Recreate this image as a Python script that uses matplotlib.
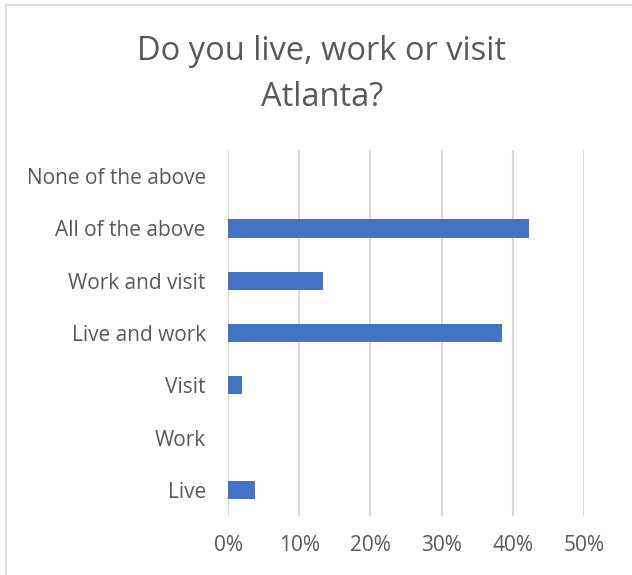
import matplotlib.pyplot as plt
from matplotlib.lines import Line2D
from matplotlib.ticker import PercentFormatter

plt.rcParams["font.family"] = ["Open Sans", "DejaVu Sans"]

# Survey answers (bottom to top as drawn)
categories = [
    "Live",
    "Work",
    "Visit",
    "Live and work",
    "Work and visit",
    "All of the above",
    "None of the above",
]
shares = [3.8, 0.0, 1.9, 38.5, 13.4, 42.3, 0.0]
x_ticks = [0, 10, 20, 30, 40, 50]

text_color = "#595959"
bar_color = "#4472c4"
grid_color = "#d9d9d9"

fig = plt.figure(figsize=(6.32, 5.75), dpi=100)
ax = fig.add_axes([0.3608, 0.1026, 0.5633, 0.6365])

ax.barh(categories, shares, height=0.35, color=bar_color)

ax.set_xlim(0, 50)
ax.set_ylim(-0.5, len(categories) - 0.5)
ax.set_xticks(x_ticks)
ax.xaxis.set_major_formatter(PercentFormatter(decimals=0))
ax.grid(axis="x", color=grid_color, linewidth=1.5)
ax.set_axisbelow(True)

for side in ["top", "right", "bottom", "left"]:
    ax.spines[side].set_visible(False)
ax.tick_params(axis="both", length=0, labelsize=15, labelcolor=text_color)
ax.tick_params(axis="x", pad=14)
ax.tick_params(axis="y", pad=16)

fig.text(
    0.509, 0.870,
    "Do you live, work or visit\nAtlanta?",
    ha="center", va="center",
    fontsize=23.5, color=text_color,
    linespacing=1.5,
)

# Chart frame (top and left edges visible in the crop)
fig.add_artist(Line2D([6 / 632, 1], [1 - 5 / 575, 1 - 5 / 575],
                      transform=fig.transFigure, color=grid_color, linewidth=1.2))
fig.add_artist(Line2D([6 / 632, 6 / 632], [0, 1 - 5 / 575],
                      transform=fig.transFigure, color=grid_color, linewidth=1.2))

plt.savefig("out.png", dpi=100)
plt.close()
